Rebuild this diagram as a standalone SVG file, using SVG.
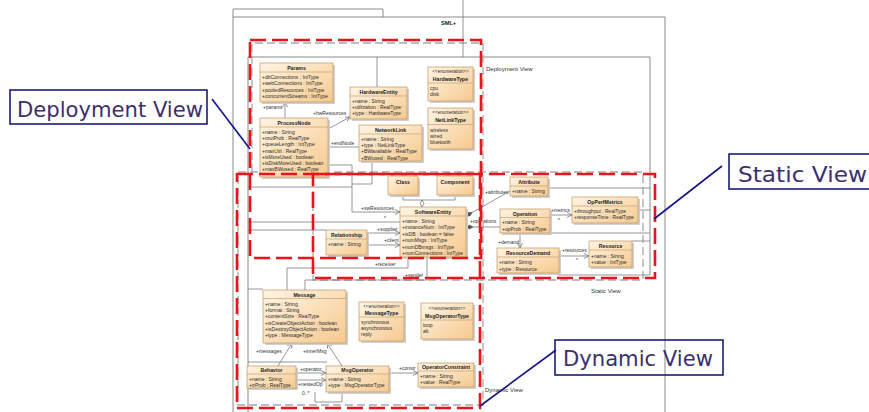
<svg xmlns="http://www.w3.org/2000/svg" width="869" height="412" viewBox="0 0 869 412">
<defs>
  <linearGradient id="cls" x1="0" y1="0" x2="1" y2="1">
    <stop offset="0" stop-color="#fff5e4"/>
    <stop offset="1" stop-color="#f6c98e"/>
  </linearGradient>
  <marker id="arr" markerWidth="6" markerHeight="6" refX="5" refY="3" orient="auto" markerUnits="userSpaceOnUse">
    <path d="M0,0.5 L5,3 L0,5.5" fill="none" stroke="#666" stroke-width="0.7"/>
  </marker>
  <marker id="dia" markerWidth="8" markerHeight="6" refX="0" refY="3" orient="auto" markerUnits="userSpaceOnUse">
    <path d="M0,3 L3.5,1 L7,3 L3.5,5 Z" fill="#555" stroke="#555" stroke-width="0.5"/>
  </marker>
  <marker id="hdia" markerWidth="8" markerHeight="6" refX="7" refY="3" orient="auto" markerUnits="userSpaceOnUse">
    <path d="M0,3 L3.5,1 L7,3 L3.5,5 Z" fill="#fff" stroke="#555" stroke-width="0.6"/>
  </marker>
</defs>
<style>
  .box{fill:url(#cls);stroke:#c29660;stroke-width:0.7}
  .sh{fill:#cfcfcf}
  .sep{stroke:#c29660;stroke-width:0.6}
  .t{font-family:"Liberation Sans",Arial,sans-serif;font-size:5px;fill:#2a2a2a}
  .h{font-family:"Liberation Sans",Arial,sans-serif;font-size:5.2px;font-weight:bold;fill:#1a1a1a;text-anchor:middle}
  .st{font-family:"Liberation Sans",Arial,sans-serif;font-size:4.6px;fill:#2a2a2a;text-anchor:middle}
  .frame{fill:none;stroke:#8a8a8a;stroke-width:1}
  .cn{fill:none;stroke:#7c7c7c;stroke-width:0.8}
  .lbl{font-family:"Liberation Sans",Arial,sans-serif;font-size:5px;fill:#333}
  .pk{font-family:"Liberation Sans",Arial,sans-serif;font-size:6px;fill:#333}
  .red{fill:none;stroke:#e8151c;stroke-width:2.6;stroke-dasharray:16 6}
  .grey{fill:none;stroke:#a9a9a9;stroke-width:1.3;stroke-dasharray:8 4}
  .cbox{fill:none;stroke:#1b1b78;stroke-width:1.6}
  .ctxt{font-family:"DejaVu Sans",sans-serif;font-size:21px;fill:#3d2f6e}
  .cline{stroke:#14148a;stroke-width:1.6}
</style>

<!-- package frames -->
<g id="frames">
  <path class="frame" d="M233,17 V9 H383 V17"/>
  <path class="frame" d="M233,412 V17 H665 V412"/>
  <text x="441" y="25" class="h" style="text-anchor:start;font-size:5.6px">SML+</text>
  <path class="frame" d="M248,412 V57 H650 V275"/>
  <text x="486" y="71" class="pk">Deployment View</text>
  <text x="591" y="293" class="pk">Static View</text>
  <text x="485" y="392" class="pk">Dynamic View</text>
</g>

<!-- dashed view boundaries -->
<g id="view-bounds">
  <path class="grey" d="M252,172 V43 H483 V405 H238 V172 H643 V280 H313 V172"/>
</g>

<!-- connectors -->
<g id="connectors">
  <path class="cn" d="M463,0 V57"/>
  <path class="cn" d="M377,57 V87"/>
  <path class="cn" d="M285,118 V102" marker-end="url(#arr)"/>
  <text class="lbl" x="263" y="109">+params</text>
  <path class="cn" d="M328,129 L350,117" marker-end="url(#arr)"/>
  <text class="lbl" x="313" y="115">+hwResources</text>
  <path class="cn" d="M328,147 H359"/>
  <text class="lbl" x="331" y="145">+endNode</text>
  <path class="cn" d="M328,165 H352 V212 H400" marker-end="url(#arr)"/>
  <path class="cn" d="M372,161 V184 H352"/>
  <path class="cn" d="M248,187 H352"/>
  <text class="lbl" x="361" y="210">+swResources</text>
  <text class="lbl" x="384" y="220">*</text>
  <path class="cn" d="M248,222 H400"/>
  <path class="cn" d="M248,230 H326"/>
  <path class="cn" d="M403,195 V200 H455 V195"/>
  <path class="cn" d="M422,200 V207" marker-end="url(#hdia)"/>
  <path class="cn" d="M466,216 L510,191" marker-start="url(#dia)"/>
  <text class="lbl" x="485" y="194">+attributes</text>
  <path class="cn" d="M466,227 H500" marker-start="url(#dia)"/>
  <text class="lbl" x="470" y="223">+operations</text>
  <text class="lbl" x="480" y="234">*</text>
  <path class="cn" d="M550,215 H572" marker-end="url(#arr)"/>
  <text class="lbl" x="551" y="212">+metrics</text>
  <text class="lbl" x="558" y="222">*</text>
  <path class="cn" d="M520,233 V248" marker-end="url(#arr)"/>
  <text class="lbl" x="498" y="244">+demand</text>
  <path class="cn" d="M559,256 H589" marker-end="url(#arr)"/>
  <text class="lbl" x="562" y="252">+resources</text>
  <text class="lbl" x="576" y="262">*</text>
  <path class="cn" d="M548,188 H650 M638,210 H650 M550,233 H650 M632,241 H650 M558,275 H650"/>
  <path class="cn" d="M367,233 H400" marker-end="url(#arr)"/>
  <text class="lbl" x="377" y="231">+supplier</text>
  <path class="cn" d="M367,245 H400" marker-end="url(#arr)"/>
  <text class="lbl" x="384" y="242">+client</text>
  <path class="cn" d="M408,257 V268 H287 V290"/>
  <text class="lbl" x="375" y="266">+receiver</text>
  <path class="cn" d="M427,257 V280 H305 V290"/>
  <text class="lbl" x="405" y="277">+sender</text>
  <path class="cn" d="M248,289 H263"/>
  <path class="cn" d="M248,362 H327"/>
  <path class="cn" d="M278,366 L292,343" marker-end="url(#arr)"/>
  <text class="lbl" x="256" y="353">+messages</text>
  <path class="cn" d="M342,366 L327,343" marker-end="url(#arr)"/>
  <text class="lbl" x="303" y="353">+innerMsg</text>
  <text class="lbl" x="330" y="347">*</text>
  <path class="cn" d="M296,373 H326" marker-end="url(#arr)"/>
  <text class="lbl" x="300" y="371">+operator</text>
  <path class="cn" d="M296,380 H326" marker-end="url(#arr)"/>
  <text class="lbl" x="298" y="386">+nestedOp</text>
  <text class="lbl" x="302" y="395">0..*</text>
  <path class="cn" d="M315,392 V402 H342 V392"/>
  <path class="cn" d="M389,373 H418" marker-end="url(#arr)"/>
  <text class="lbl" x="399" y="370">+constr</text>
</g>

<!-- deployment classes -->
<g id="Params">
  <rect class="sh" x="262" y="65" width="73" height="39"/>
  <rect class="box" x="260" y="63" width="73" height="39"/>
  <text class="h" x="296.5" y="70">Params</text>
  <line class="sep" x1="260" y1="72" x2="333" y2="72"/>
  <text class="t" x="262" y="79">+dbConnections : IntType</text>
  <text class="t" x="262" y="85.3">+webConnections : IntType</text>
  <text class="t" x="262" y="91.6">+pooledResources : IntType</text>
  <text class="t" x="262" y="97.9">+concurrentStreams : IntType</text>
</g>
<g id="ProcessNode">
  <rect class="sh" x="262" y="120" width="68" height="59"/>
  <rect class="box" x="260" y="118" width="68" height="59"/>
  <text class="h" x="294" y="125">ProcessNode</text>
  <line class="sep" x1="260" y1="127" x2="328" y2="127"/>
  <text class="t" x="262" y="134">+name : String</text>
  <text class="t" x="262" y="140.2">+routProb : RealType</text>
  <text class="t" x="262" y="146.4">+queueLength : IntType</text>
  <text class="t" x="262" y="152.6">+maxUtil : RealType</text>
  <text class="t" x="262" y="158.8">+isMoreUsed : boolean</text>
  <text class="t" x="262" y="165">+isDiskMoreUsed : boolean</text>
  <text class="t" x="262" y="171.2">+maxBWused : RealType</text>
</g>
<g id="HardwareEntity">
  <rect class="sh" x="352" y="89" width="57" height="32"/>
  <rect class="box" x="350" y="87" width="57" height="32"/>
  <text class="h" x="378.5" y="94">HardwareEntity</text>
  <line class="sep" x1="350" y1="96" x2="407" y2="96"/>
  <text class="t" x="352" y="103">+name : String</text>
  <text class="t" x="352" y="109.2">+utilization : RealType</text>
  <text class="t" x="352" y="115.4">+type : HardwareType</text>
</g>
<g id="NetworkLink">
  <rect class="sh" x="361" y="127" width="63" height="36"/>
  <rect class="box" x="359" y="125" width="63" height="36"/>
  <text class="h" x="390.5" y="132">NetworkLink</text>
  <line class="sep" x1="359" y1="134" x2="422" y2="134"/>
  <text class="t" x="361" y="141">+name : String</text>
  <text class="t" x="361" y="147.2">+type : NetLinkType</text>
  <text class="t" x="361" y="153.4">+BWavailable : RealType</text>
  <text class="t" x="361" y="159.6">+BWused : RealType</text>
</g>
<g id="HardwareType">
  <rect class="sh" x="430" y="69" width="45" height="34"/>
  <rect class="box" x="428" y="67" width="45" height="34"/>
  <text class="st" x="450.5" y="73">&lt;&lt;enumeration&gt;&gt;</text>
  <text class="h" x="450.5" y="81">HardwareType</text>
  <line class="sep" x1="428" y1="83" x2="473" y2="83"/>
  <text class="t" x="430" y="90">cpu</text>
  <text class="t" x="430" y="96">disk</text>
</g>
<g id="NetLinkType">
  <rect class="sh" x="430" y="110" width="45" height="41"/>
  <rect class="box" x="428" y="108" width="45" height="41"/>
  <text class="st" x="450.5" y="114">&lt;&lt;enumeration&gt;&gt;</text>
  <text class="h" x="450.5" y="122">NetLinkType</text>
  <line class="sep" x1="428" y1="124.5" x2="473" y2="124.5"/>
  <text class="t" x="430" y="131.5">wireless</text>
  <text class="t" x="430" y="137.7">wired</text>
  <text class="t" x="430" y="143.9">bluetooth</text>
</g>

<!-- static classes -->
<g id="Class">
  <rect class="sh" x="390" y="178" width="30" height="19"/>
  <rect class="box" x="388" y="176" width="30" height="19"/>
  <text class="h" x="403" y="184">Class</text>
</g>
<g id="Component">
  <rect class="sh" x="439" y="178" width="36" height="19"/>
  <rect class="box" x="437" y="176" width="36" height="19"/>
  <text class="h" x="455" y="184">Component</text>
</g>
<g id="SoftwareEntity">
  <rect class="sh" x="402" y="209" width="66" height="50"/>
  <rect class="box" x="400" y="207" width="66" height="50"/>
  <text class="h" x="433" y="214">SoftwareEntity</text>
  <line class="sep" x1="400" y1="216" x2="466" y2="216"/>
  <text class="t" x="402" y="223">+name : String</text>
  <text class="t" x="402" y="229.4">+instanceNum : IntType</text>
  <text class="t" x="402" y="235.8">+isDB : boolean = false</text>
  <text class="t" x="402" y="242.2">+numMsgs : IntType</text>
  <text class="t" x="402" y="248.6">+numDBmsgs : IntType</text>
  <text class="t" x="402" y="255">+numConnections : IntType</text>
</g>
<g id="Relationship">
  <rect class="sh" x="328" y="232" width="41" height="25"/>
  <rect class="box" x="326" y="230" width="41" height="25"/>
  <text class="h" x="346.5" y="237">Relationship</text>
  <line class="sep" x1="326" y1="239" x2="367" y2="239"/>
  <text class="t" x="328" y="246">+name : String</text>
</g>
<g id="Attribute">
  <rect class="sh" x="512" y="179" width="38" height="19"/>
  <rect class="box" x="510" y="177" width="38" height="19"/>
  <text class="h" x="529" y="184">Attribute</text>
  <line class="sep" x1="510" y1="186" x2="548" y2="186"/>
  <text class="t" x="512" y="192.5">+name : String</text>
</g>
<g id="Operation">
  <rect class="sh" x="502" y="211" width="50" height="24"/>
  <rect class="box" x="500" y="209" width="50" height="24"/>
  <text class="h" x="525" y="215.5">Operation</text>
  <line class="sep" x1="500" y1="217.5" x2="550" y2="217.5"/>
  <text class="t" x="502" y="224">+name : String</text>
  <text class="t" x="502" y="230.5">+opProb : RealType</text>
</g>
<g id="OpPerfMetrics">
  <rect class="sh" x="574" y="199" width="66" height="26"/>
  <rect class="box" x="572" y="197" width="66" height="26"/>
  <text class="h" x="605" y="204">OpPerfMetrics</text>
  <line class="sep" x1="572" y1="206" x2="638" y2="206"/>
  <text class="t" x="574" y="213">+throughput : RealType</text>
  <text class="t" x="574" y="219">+responseTime : RealType</text>
</g>
<g id="ResourceDemand">
  <rect class="sh" x="499" y="250" width="62" height="25"/>
  <rect class="box" x="497" y="248" width="62" height="25"/>
  <text class="h" x="528" y="254.5">ResourceDemand</text>
  <line class="sep" x1="497" y1="257" x2="559" y2="257"/>
  <text class="t" x="499" y="264">+name : String</text>
  <text class="t" x="499" y="270.5">+type : Resource</text>
</g>
<g id="Resource">
  <rect class="sh" x="591" y="243" width="43" height="26"/>
  <rect class="box" x="589" y="241" width="43" height="26"/>
  <text class="h" x="610.5" y="248">Resource</text>
  <line class="sep" x1="589" y1="250" x2="632" y2="250"/>
  <text class="t" x="591" y="257.5">+name : String</text>
  <text class="t" x="591" y="263.5">+value : IntType</text>
</g>

<!-- dynamic classes -->
<g id="Message">
  <rect class="sh" x="265" y="292" width="83" height="53"/>
  <rect class="box" x="263" y="290" width="83" height="53"/>
  <text class="h" x="304.5" y="296.5">Message</text>
  <line class="sep" x1="263" y1="298.5" x2="346" y2="298.5"/>
  <text class="t" x="265" y="306">+name : String</text>
  <text class="t" x="265" y="312.2">+format : String</text>
  <text class="t" x="265" y="318.4">+contentSize : RealType</text>
  <text class="t" x="265" y="324.6">+isCreateObjectAction : boolean</text>
  <text class="t" x="265" y="330.8">+isDestroyObjectAction : boolean</text>
  <text class="t" x="265" y="337">+type : MessageType</text>
</g>
<g id="MessageType">
  <rect class="sh" x="361" y="304" width="45" height="39"/>
  <rect class="box" x="359" y="302" width="45" height="39"/>
  <text class="st" x="381.5" y="307.5">&lt;&lt;enumeration&gt;&gt;</text>
  <text class="h" x="381.5" y="315">MessageType</text>
  <line class="sep" x1="359" y1="317" x2="404" y2="317"/>
  <text class="t" x="361" y="324">synchronous</text>
  <text class="t" x="361" y="330">asynchronous</text>
  <text class="t" x="361" y="336">reply</text>
</g>
<g id="MsgOperatorType">
  <rect class="sh" x="423" y="305" width="52" height="36"/>
  <rect class="box" x="421" y="303" width="52" height="36"/>
  <text class="st" x="447" y="310">&lt;&lt;enumeration&gt;&gt;</text>
  <text class="h" x="447" y="318">MsgOperatorType</text>
  <line class="sep" x1="421" y1="320" x2="473" y2="320"/>
  <text class="t" x="423" y="327">loop</text>
  <text class="t" x="423" y="333">alt</text>
</g>
<g id="Behavior">
  <rect class="sh" x="249" y="368" width="49" height="22"/>
  <rect class="box" x="247" y="366" width="49" height="22"/>
  <text class="h" x="271.5" y="372">Behavior</text>
  <line class="sep" x1="247" y1="374" x2="296" y2="374"/>
  <text class="t" x="249" y="380.5">+name : String</text>
  <text class="t" x="249" y="386.5">+trProb : RealType</text>
</g>
<g id="MsgOperator">
  <rect class="sh" x="328" y="368" width="63" height="26"/>
  <rect class="box" x="326" y="366" width="63" height="26"/>
  <text class="h" x="357.5" y="372">MsgOperator</text>
  <line class="sep" x1="326" y1="374" x2="389" y2="374"/>
  <text class="t" x="328" y="381">+name : String</text>
  <text class="t" x="328" y="387.3">+type : MsgOperatorType</text>
</g>
<g id="OperatorConstraint">
  <rect class="sh" x="420" y="365" width="56" height="24"/>
  <rect class="box" x="418" y="363" width="56" height="24"/>
  <text class="h" x="446" y="369">OperatorConstraint</text>
  <line class="sep" x1="418" y1="371" x2="474" y2="371"/>
  <text class="t" x="420" y="378">+name : String</text>
  <text class="t" x="420" y="384">+value : RealType</text>
</g>

<!-- highlighted view regions -->
<g id="view-highlights">
  <rect class="red" x="250" y="40" width="231" height="218"/>
  <rect class="red" x="313" y="174" width="342" height="104"/>
  <rect class="red" x="237" y="174" width="243" height="234"/>
</g>

<!-- callouts -->
<g id="callout-deployment">
  <rect class="cbox" x="10" y="90" width="197" height="34"/>
  <text class="ctxt" x="17" y="117" textLength="186" lengthAdjust="spacingAndGlyphs">Deployment View</text>
  <line class="cline" x1="212" y1="99" x2="250" y2="149"/>
</g>
<g id="callout-static">
  <rect class="cbox" x="729" y="154" width="142" height="35"/>
  <text class="ctxt" x="738" y="182" textLength="129" lengthAdjust="spacingAndGlyphs">Static View</text>
  <line class="cline" x1="722" y1="166" x2="654" y2="219"/>
</g>
<g id="callout-dynamic">
  <rect class="cbox" x="555" y="340" width="168" height="35"/>
  <text class="ctxt" x="563" y="366" textLength="150" lengthAdjust="spacingAndGlyphs">Dynamic View</text>
  <line class="cline" x1="556" y1="350" x2="480" y2="406"/>
</g>
</svg>
